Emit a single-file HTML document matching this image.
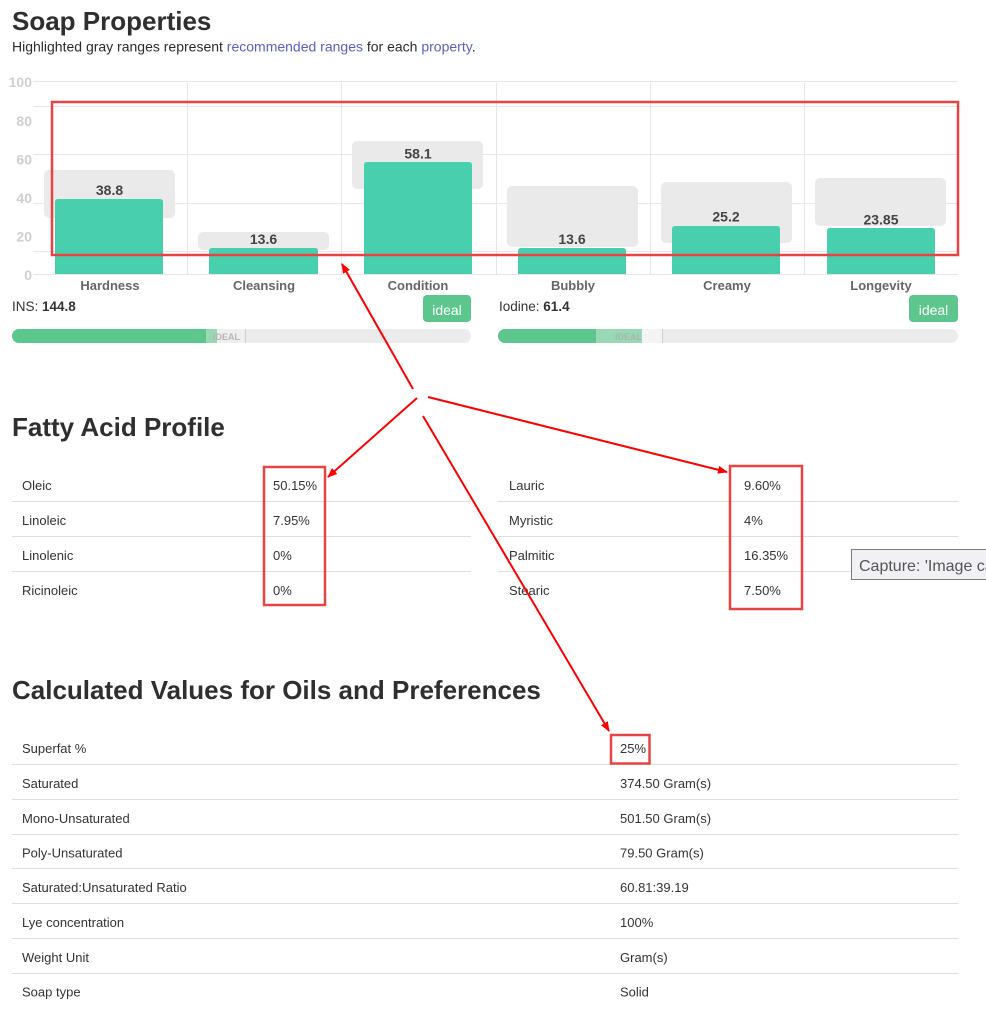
<!DOCTYPE html>
<html>
<head>
<meta charset="utf-8">
<style>
html,body{margin:0;padding:0;background:#fff;}
body{width:986px;height:1016px;overflow:hidden;position:relative;font-family:"Liberation Sans",sans-serif;}
svg{position:absolute;left:0;top:0;}
</style>
</head>
<body>
<svg width="986" height="1016" viewBox="0 0 986 1016" xmlns="http://www.w3.org/2000/svg" font-family="Liberation Sans, sans-serif">
  <defs>
    <marker id="ah" markerWidth="10" markerHeight="8" refX="9" refY="4" orient="auto" markerUnits="userSpaceOnUse">
      <path d="M0,0 L10,4 L0,8 z" fill="#ff0000"/>
    </marker>
  </defs>

  <!-- Title -->
  <text x="12" y="30" font-size="26" font-weight="bold" fill="#2f2f2f">Soap Properties</text>
  <text x="12" y="51.5" font-size="14" fill="#2a2a2a">Highlighted gray ranges represent <tspan fill="#5a5fc4">recommended ranges</tspan> for each <tspan fill="#5a5fc4">property</tspan>.</text>

  <!-- Gridlines -->
  <g stroke="#e6e6e6" stroke-width="1">
    <line x1="33" y1="81.5" x2="958" y2="81.5"/>
    <line x1="33" y1="106.5" x2="958" y2="106.5"/>
    <line x1="33" y1="154.5" x2="958" y2="154.5"/>
    <line x1="33" y1="203.5" x2="958" y2="203.5"/>
    <line x1="33" y1="251.5" x2="958" y2="251.5"/>
    <line x1="33" y1="274.5" x2="958" y2="274.5"/>
    <line x1="187.5" y1="83" x2="187.5" y2="274"/>
    <line x1="341.5" y1="83" x2="341.5" y2="274"/>
    <line x1="496.5" y1="83" x2="496.5" y2="274"/>
    <line x1="650.5" y1="83" x2="650.5" y2="274"/>
    <line x1="804.5" y1="83" x2="804.5" y2="274"/>
  </g>

  <!-- Y axis labels -->
  <g font-size="14" font-weight="bold" fill="#cfcfcf" text-anchor="end">
    <text x="32" y="87">100</text>
    <text x="32" y="126">80</text>
    <text x="32" y="164.5">60</text>
    <text x="32" y="203">40</text>
    <text x="32" y="241.5">20</text>
    <text x="32" y="280">0</text>
  </g>

  <!-- Range boxes -->
  <g fill="#eaeaea">
    <rect x="44" y="170" width="131" height="48" rx="5"/>
    <rect x="198" y="232" width="131" height="18" rx="5"/>
    <rect x="352" y="141" width="131" height="48" rx="5"/>
    <rect x="507" y="186" width="131" height="61" rx="5"/>
    <rect x="661" y="182" width="131" height="61" rx="5"/>
    <rect x="815" y="178" width="131" height="48" rx="5"/>
  </g>

  <!-- Bars -->
  <g fill="#48cfae">
    <path d="M55,274 V202 Q55,199 58,199 H160 Q163,199 163,202 V274 Z"/>
    <path d="M209,274 V251 Q209,248 212,248 H315 Q318,248 318,251 V274 Z"/>
    <path d="M364,274 V165 Q364,162 367,162 H469 Q472,162 472,165 V274 Z"/>
    <path d="M518,274 V251 Q518,248 521,248 H623 Q626,248 626,251 V274 Z"/>
    <path d="M672,274 V229 Q672,226 675,226 H777 Q780,226 780,229 V274 Z"/>
    <path d="M827,274 V231 Q827,228 830,228 H932 Q935,228 935,231 V274 Z"/>
  </g>

  <!-- Value labels -->
  <g font-size="14" font-weight="bold" fill="#444" text-anchor="middle">
    <text x="109.5" y="195">38.8</text>
    <text x="263.5" y="244">13.6</text>
    <text x="418" y="158.5">58.1</text>
    <text x="572" y="244">13.6</text>
    <text x="726" y="221.5">25.2</text>
    <text x="881" y="224.5">23.85</text>
  </g>

  <!-- Category labels -->
  <g font-size="13" font-weight="bold" fill="#666" text-anchor="middle">
    <text x="110" y="290">Hardness</text>
    <text x="264" y="290">Cleansing</text>
    <text x="418" y="290">Condition</text>
    <text x="573" y="290">Bubbly</text>
    <text x="727" y="290">Creamy</text>
    <text x="881" y="290">Longevity</text>
  </g>

  <!-- INS -->
  <text x="12" y="311" font-size="13.5" fill="#333">INS: <tspan font-weight="bold">144.8</tspan></text>
  <rect x="423" y="295" width="48" height="27" rx="4" fill="#5cc68d"/>
  <text x="447" y="315" font-size="14" fill="#fff" text-anchor="middle">ideal</text>
  <rect x="12" y="329" width="459" height="14" rx="7" fill="#ececec"/>
  <rect x="217" y="329" width="28" height="14" fill="#efefef"/>
  <path d="M19,329 H206 V343 H19 A7,7 0 0 1 19,329 Z" fill="#5cc68d"/>
  <rect x="206" y="329" width="11" height="14" fill="#96d9b4"/>
  <text x="213" y="340" font-size="9" font-weight="bold" fill="#b5b5b5">IDEAL</text>
  <line x1="245.5" y1="329" x2="245.5" y2="343" stroke="#cfcfcf" stroke-width="1"/>

  <!-- Iodine -->
  <text x="499" y="311" font-size="13.5" fill="#333">Iodine: <tspan font-weight="bold">61.4</tspan></text>
  <rect x="909" y="295" width="49" height="27" rx="4" fill="#5cc68d"/>
  <text x="933.5" y="315" font-size="14" fill="#fff" text-anchor="middle">ideal</text>
  <rect x="498" y="329" width="460" height="14" rx="7" fill="#ececec"/>
  <rect x="642" y="329" width="20" height="14" fill="#f4f4f4"/>
  <path d="M505,329 H596 V343 H505 A7,7 0 0 1 505,329 Z" fill="#5cc68d"/>
  <rect x="596" y="329" width="46" height="14" fill="#96d9b4"/>
  <text x="615" y="340" font-size="9" font-weight="bold" fill="#a8b8ae">IDEAL</text>
  <line x1="662.5" y1="329" x2="662.5" y2="343" stroke="#cfcfcf" stroke-width="1"/>

  <!-- Fatty Acid Profile -->
  <text x="12" y="436" font-size="26" font-weight="bold" fill="#2f2f2f">Fatty Acid Profile</text>
  <g stroke="#dedede" stroke-width="1">
    <line x1="12" y1="501.5" x2="471" y2="501.5"/>
    <line x1="12" y1="536.5" x2="471" y2="536.5"/>
    <line x1="12" y1="571.5" x2="471" y2="571.5"/>
    <line x1="498" y1="501.5" x2="958" y2="501.5"/>
    <line x1="498" y1="536.5" x2="958" y2="536.5"/>
    <line x1="498" y1="571.5" x2="958" y2="571.5"/>
  </g>
  <g font-size="13" fill="#333">
    <text x="22" y="490">Oleic</text>
    <text x="22" y="525">Linoleic</text>
    <text x="22" y="560">Linolenic</text>
    <text x="22" y="595">Ricinoleic</text>
    <text x="273" y="490">50.15%</text>
    <text x="273" y="525">7.95%</text>
    <text x="273" y="560">0%</text>
    <text x="273" y="595">0%</text>
    <text x="509" y="490">Lauric</text>
    <text x="509" y="525">Myristic</text>
    <text x="509" y="560">Palmitic</text>
    <text x="509" y="595">Stearic</text>
    <text x="744" y="490">9.60%</text>
    <text x="744" y="525">4%</text>
    <text x="744" y="560">16.35%</text>
    <text x="744" y="595">7.50%</text>
  </g>

  <!-- Tooltip -->
  <rect x="851.5" y="549.5" width="140" height="30" fill="#f1f1f5" stroke="#7a7a7a" stroke-width="1"/>
  <text x="859" y="571" font-size="16" fill="#555">Capture: 'Image cap</text>

  <!-- Calculated values -->
  <text x="12" y="699" font-size="26" font-weight="bold" fill="#2f2f2f">Calculated Values for Oils and Preferences</text>
  <g stroke="#dedede" stroke-width="1">
    <line x1="12" y1="764.5" x2="958" y2="764.5"/>
    <line x1="12" y1="799.5" x2="958" y2="799.5"/>
    <line x1="12" y1="834.5" x2="958" y2="834.5"/>
    <line x1="12" y1="868.5" x2="958" y2="868.5"/>
    <line x1="12" y1="903.5" x2="958" y2="903.5"/>
    <line x1="12" y1="938.5" x2="958" y2="938.5"/>
    <line x1="12" y1="973.5" x2="958" y2="973.5"/>
  </g>
  <g font-size="13" fill="#333">
    <text x="22" y="753">Superfat %</text>
    <text x="22" y="788">Saturated</text>
    <text x="22" y="823">Mono-Unsaturated</text>
    <text x="22" y="857.5">Poly-Unsaturated</text>
    <text x="22" y="892">Saturated:Unsaturated Ratio</text>
    <text x="22" y="927">Lye concentration</text>
    <text x="22" y="962">Weight Unit</text>
    <text x="22" y="996.5">Soap type</text>
    <text x="620" y="753">25%</text>
    <text x="620" y="788">374.50 Gram(s)</text>
    <text x="620" y="823">501.50 Gram(s)</text>
    <text x="620" y="857.5">79.50 Gram(s)</text>
    <text x="620" y="892">60.81:39.19</text>
    <text x="620" y="927">100%</text>
    <text x="620" y="962">Gram(s)</text>
    <text x="620" y="996.5">Solid</text>
  </g>

  <!-- Red annotation boxes -->
  <g fill="none" stroke="#e84444" stroke-width="2.5">
    <rect x="52" y="102" width="906" height="153"/>
    <rect x="264" y="467" width="61" height="138"/>
    <rect x="730" y="466" width="72" height="143"/>
    <rect x="611" y="735" width="38.5" height="28.5"/>
  </g>

  <!-- Arrows -->
  <g stroke="#ff0000" stroke-width="2" fill="none" marker-end="url(#ah)">
    <line x1="413" y1="389" x2="342" y2="264"/>
    <line x1="417" y1="398" x2="328" y2="477"/>
    <line x1="428" y1="397" x2="727" y2="472"/>
    <line x1="423" y1="416" x2="609" y2="731"/>
  </g>
</svg>
</body>
</html>
